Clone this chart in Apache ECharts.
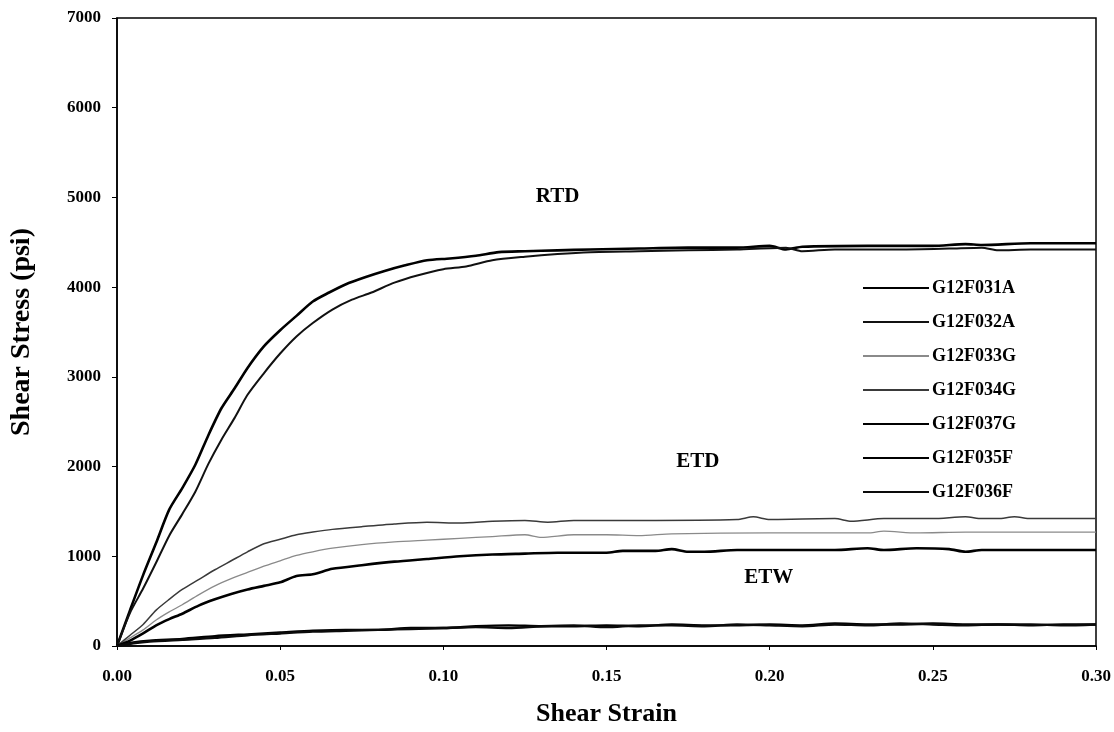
<!DOCTYPE html>
<html>
<head>
<meta charset="utf-8">
<script src="https://cdn.jsdelivr.net/npm/echarts@6/dist/echarts.min.js"></script>
<style>html,body{margin:0;padding:0;background:#fff;}#c{width:1114px;height:732px;}</style>
</head>
<body>
<div id="c"></div>
<script>
const seriesNames = ['G12F031A','G12F032A','G12F033G','G12F034G','G12F037G','G12F035F','G12F036F'];
const xTicks = [0, 0.05, 0.10, 0.15, 0.20, 0.25, 0.30];
const yTicks = [0, 1000, 2000, 3000, 4000, 5000, 6000, 7000];

const g12f031a = [[0,0],[0.004,400],[0.008,790],[0.012,1150],[0.016,1520],[0.020,1760],[0.024,2020],[0.028,2350],[0.032,2650],[0.036,2870],[0.040,3100],[0.045,3340],[0.050,3520],[0.055,3680],[0.060,3840],[0.065,3940],[0.070,4030],[0.076,4110],[0.082,4180],[0.088,4240],[0.095,4300],[0.102,4320],[0.110,4350],[0.117,4390],[0.125,4400],[0.135,4410],[0.145,4420],[0.160,4430],[0.175,4440],[0.190,4440],[0.200,4460],[0.205,4420],[0.210,4450],[0.230,4460],[0.250,4460],[0.260,4480],[0.265,4470],[0.280,4490],[0.300,4490]];
const g12f032a = [[0,0],[0.004,370],[0.008,640],[0.012,930],[0.016,1230],[0.020,1470],[0.024,1720],[0.028,2030],[0.032,2300],[0.036,2540],[0.040,2800],[0.045,3040],[0.050,3260],[0.055,3450],[0.060,3600],[0.066,3750],[0.072,3860],[0.078,3940],[0.085,4050],[0.092,4130],[0.100,4200],[0.107,4230],[0.115,4300],[0.125,4340],[0.135,4370],[0.145,4390],[0.160,4400],[0.175,4410],[0.190,4420],[0.205,4440],[0.210,4400],[0.220,4420],[0.240,4420],[0.255,4430],[0.265,4440],[0.270,4410],[0.280,4420],[0.300,4420]];
const g12f033g = [[0,0],[0.004,90],[0.008,180],[0.012,290],[0.016,380],[0.020,460],[0.025,570],[0.030,670],[0.035,750],[0.040,820],[0.045,890],[0.050,950],[0.055,1010],[0.060,1050],[0.066,1090],[0.075,1130],[0.085,1160],[0.095,1180],[0.105,1200],[0.115,1220],[0.125,1240],[0.130,1210],[0.140,1240],[0.150,1240],[0.160,1230],[0.170,1250],[0.200,1260],[0.230,1260],[0.235,1280],[0.245,1260],[0.260,1270],[0.280,1270],[0.300,1270]];
const g12f034g = [[0,0],[0.004,120],[0.008,240],[0.012,400],[0.016,520],[0.020,630],[0.025,740],[0.030,850],[0.035,950],[0.040,1050],[0.045,1140],[0.050,1190],[0.055,1240],[0.060,1270],[0.066,1300],[0.075,1330],[0.085,1360],[0.095,1380],[0.105,1370],[0.115,1390],[0.125,1400],[0.132,1380],[0.140,1400],[0.160,1400],[0.190,1410],[0.195,1440],[0.200,1410],[0.220,1420],[0.225,1390],[0.235,1420],[0.250,1420],[0.260,1440],[0.265,1420],[0.270,1420],[0.275,1440],[0.280,1420],[0.300,1420]];
const g12f037g = [[0,0],[0.004,60],[0.008,140],[0.012,230],[0.016,300],[0.020,360],[0.025,450],[0.030,520],[0.035,580],[0.040,630],[0.045,670],[0.050,710],[0.055,780],[0.060,800],[0.066,860],[0.075,900],[0.085,940],[0.095,970],[0.105,1000],[0.115,1020],[0.125,1030],[0.135,1040],[0.150,1040],[0.155,1060],[0.165,1060],[0.170,1080],[0.175,1050],[0.180,1050],[0.190,1070],[0.220,1070],[0.230,1090],[0.235,1070],[0.245,1090],[0.255,1080],[0.260,1050],[0.265,1070],[0.300,1070]];
const g12f035f = [[0,0],[0.005,40],[0.010,60],[0.020,80],[0.030,110],[0.040,130],[0.050,150],[0.060,170],[0.070,180],[0.080,180],[0.090,200],[0.100,200],[0.110,220],[0.120,230],[0.130,220],[0.140,220],[0.150,230],[0.160,220],[0.170,240],[0.180,230],[0.190,230],[0.200,240],[0.210,230],[0.220,250],[0.230,240],[0.240,240],[0.250,250],[0.260,240],[0.270,240],[0.280,230],[0.290,240],[0.300,240]];
const g12f036f = [[0,0],[0.005,30],[0.010,50],[0.020,70],[0.030,90],[0.040,120],[0.050,140],[0.060,160],[0.070,170],[0.080,180],[0.090,190],[0.100,200],[0.110,210],[0.120,200],[0.130,220],[0.140,230],[0.150,210],[0.160,230],[0.170,230],[0.180,220],[0.190,240],[0.200,230],[0.210,220],[0.220,240],[0.230,230],[0.240,250],[0.250,240],[0.260,230],[0.270,240],[0.280,240],[0.290,230],[0.300,240]];

const annotations = [['RTD',0.135,5011],['ETD',0.178,2056],['ETW',0.1997,767]];

const allData = [g12f031a,g12f032a,g12f033g,g12f034g,g12f037g,g12f035f,g12f036f];
const colors = ['#000000','#111111','#8a8a8a','#3a3a3a','#000000','#000000','#0a0a0a'];
const widths = [2.6,2,1.3,1.5,2.6,2.4,2.4];
const serif = '"Liberation Serif", "Times New Roman", serif';

const series = seriesNames.map((n,i)=>({
  name:n, type:'line', data:allData[i], symbol:'none', showSymbol:false,
  smooth:0.25,
  lineStyle:{color:colors[i], width:widths[i]}, itemStyle:{color:colors[i]},
  animation:false, z:3
}));
series.push({
  type:'scatter', data:annotations.map(a=>[a[1],a[2],a[0]]), symbolSize:0,
  itemStyle:{opacity:1},
  label:{show:true, formatter:p=>p.data[2], color:'#000', opacity:1, fontFamily:serif, fontWeight:'bold', fontSize:21, position:'inside'},
  silent:true, animation:false, z:5
});

const chart = echarts.init(document.getElementById('c'), null, {renderer:'canvas'});
chart.setOption({
  backgroundColor:'#fff',
  animation:false,
  grid:{left:117, right:18, top:18, bottom:84, show:true, borderColor:'#000', borderWidth:1.5, backgroundColor:'transparent'},
  legend:{
    data:seriesNames, orient:'vertical', left:857, top:274, itemWidth:66, itemHeight:14, itemGap:16,
    itemStyle:{opacity:0},
    textStyle:{fontFamily:serif, fontWeight:'bold', fontSize:18, lineHeight:18, color:'#000', padding:[0,0,0,-2]}
  },
  xAxis:{
    type:'value', min:xTicks[0], max:xTicks[xTicks.length-1], interval:0.05,
    name:'Shear Strain', nameLocation:'middle', nameGap:55,
    nameTextStyle:{fontFamily:serif, fontWeight:'bold', fontSize:26, color:'#000'},
    axisLine:{show:true, lineStyle:{color:'#000', width:1.5}},
    axisTick:{show:true, length:4, lineStyle:{color:'#000'}},
    splitLine:{show:false},
    axisLabel:{formatter:v=>v.toFixed(2), fontFamily:serif, fontWeight:'bold', fontSize:17, color:'#000', margin:22}
  },
  yAxis:{
    type:'value', min:yTicks[0], max:yTicks[yTicks.length-1], interval:1000,
    name:'Shear Stress (psi)', nameLocation:'middle', nameGap:81, nameRotate:90,
    nameTextStyle:{fontFamily:serif, fontWeight:'bold', fontSize:28, color:'#000'},
    axisLine:{show:true, lineStyle:{color:'#000', width:1.5}},
    axisTick:{show:true, length:5, lineStyle:{color:'#000'}},
    splitLine:{show:false},
    axisLabel:{formatter:v=>String(v), fontFamily:serif, fontWeight:'bold', fontSize:17, color:'#000', margin:16}
  },
  series:series
});
</script>
</body>
</html>
